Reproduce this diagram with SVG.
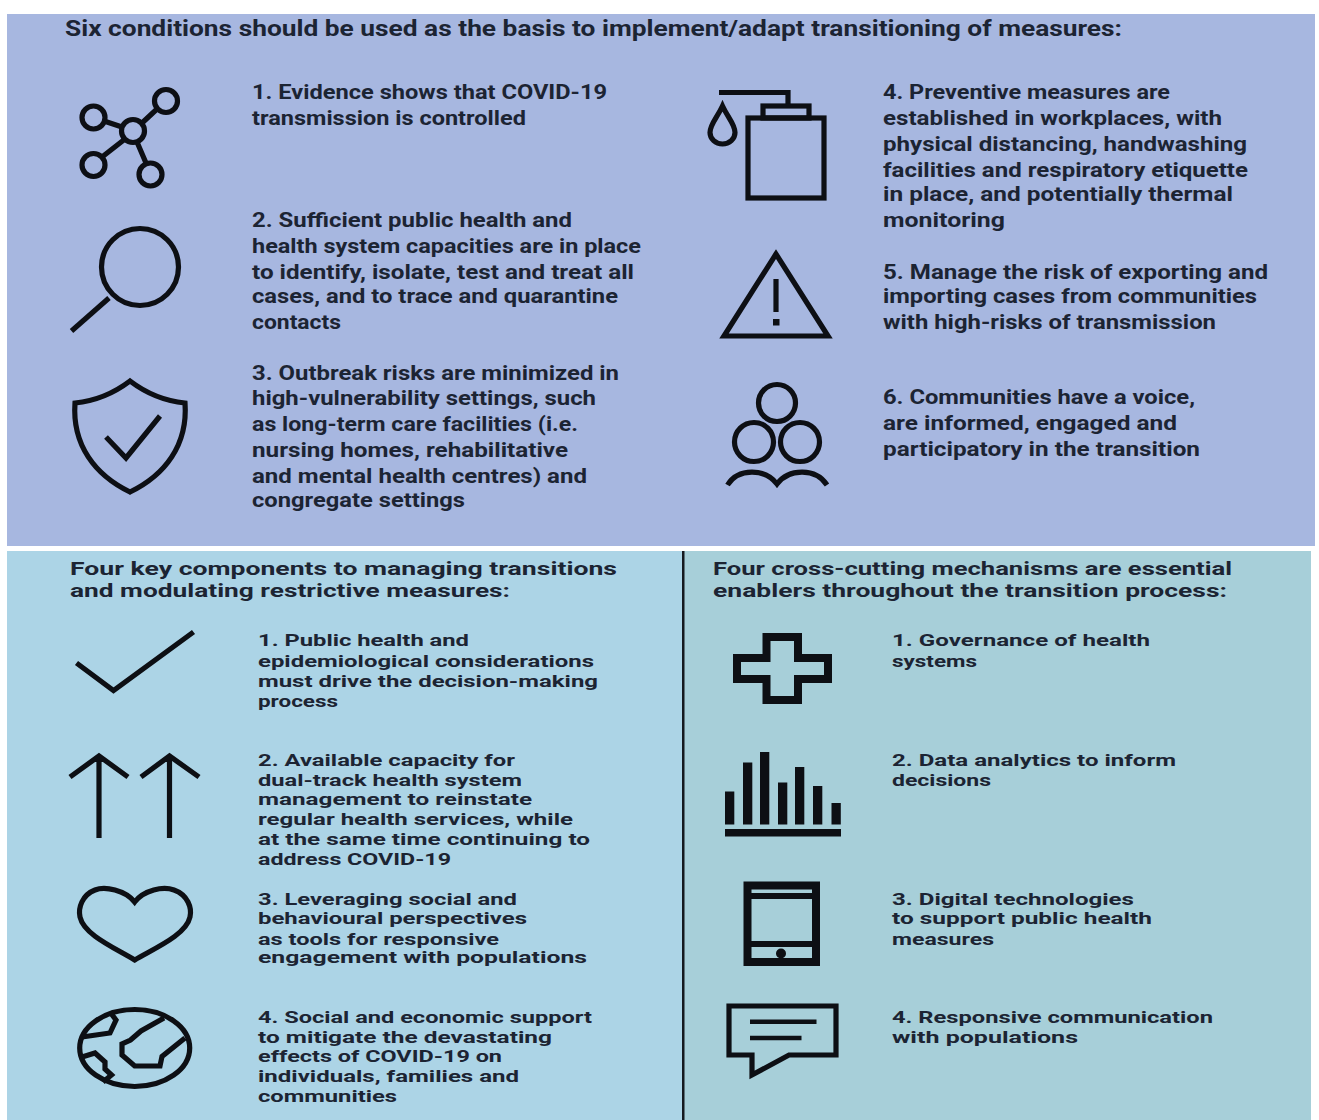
<svg xmlns="http://www.w3.org/2000/svg" width="1319" height="1120" viewBox="0 0 1319 1120">
<style>
text{font-family:Roboto,"Noto Sans","Liberation Sans",sans-serif;font-weight:700;fill:#1c2433}
.h1{font-size:22px}
.t1{font-size:21px}
.h2{font-size:18.500px}
.t2{font-size:17px}
.i{fill:none;stroke:#0d0f14;stroke-width:5.200;stroke-linejoin:miter}
.f{fill:#0d0f14;stroke:none}
</style>
<rect width="1319" height="1120" fill="#fff"/>
<rect id="panel-top" x="7" y="14" width="1308" height="532" fill="#a7b7e0"/>
<rect id="panel-left" x="7" y="551" width="676" height="569" fill="#acd4e6"/>
<rect id="panel-right" x="683" y="551" width="628" height="569" fill="#a7cfd9"/>
<rect id="divider" x="682" y="551" width="2.500" height="569" fill="#15191f"/>
<g id="connectors"/>

<g id="title-top"><text class="h1" x="65" y="36" textLength="1057" lengthAdjust="spacingAndGlyphs">Six conditions should be used as the basis to implement/adapt transitioning of measures:</text></g>

<g id="condition-1">
<g class="i"><circle cx="166" cy="101" r="11.500"/><circle cx="93.500" cy="117.500" r="11.500"/><circle cx="133" cy="131" r="11.500"/><circle cx="93.500" cy="165" r="11.500"/><circle cx="150.500" cy="174.500" r="11.500"/><path d="M157 109L142 123M104 121L122 127M125 139L102 157M137 142L146 163"/></g>
<text class="t1" x="252" y="99" textLength="355" lengthAdjust="spacingAndGlyphs">1. Evidence shows that COVID-19</text>
<text class="t1" x="252" y="125" textLength="274" lengthAdjust="spacingAndGlyphs">transmission is controlled</text>
</g>
<g id="condition-2">
<g class="i"><circle cx="140" cy="267" r="38.500"/><path d="M109 298L71.500 331"/></g>
<text class="t1" x="252" y="227" textLength="320" lengthAdjust="spacingAndGlyphs">2. Sufficient public health and</text>
<text class="t1" x="252" y="253" textLength="389" lengthAdjust="spacingAndGlyphs">health system capacities are in place</text>
<text class="t1" x="252" y="279" textLength="382" lengthAdjust="spacingAndGlyphs">to identify, isolate, test and treat all</text>
<text class="t1" x="252" y="303" textLength="366" lengthAdjust="spacingAndGlyphs">cases, and to trace and quarantine</text>
<text class="t1" x="252" y="329" textLength="89" lengthAdjust="spacingAndGlyphs">contacts</text>
</g>
<g id="condition-3">
<g class="i"><path d="M130 381Q105 400 75 403C72 445 95 475 130 492C165 475 188 445 185 403Q155 400 130 381Z"/><path d="M106 437L126 458L160 416"/></g>
<text class="t1" x="252" y="380" textLength="367" lengthAdjust="spacingAndGlyphs">3. Outbreak risks are minimized in</text>
<text class="t1" x="252" y="405" textLength="344" lengthAdjust="spacingAndGlyphs">high-vulnerability settings, such</text>
<text class="t1" x="252" y="431" textLength="326" lengthAdjust="spacingAndGlyphs">as long-term care facilities (i.e.</text>
<text class="t1" x="252" y="457" textLength="316" lengthAdjust="spacingAndGlyphs">nursing homes, rehabilitative</text>
<text class="t1" x="252" y="483" textLength="335" lengthAdjust="spacingAndGlyphs">and mental health centres) and</text>
<text class="t1" x="252" y="507" textLength="213" lengthAdjust="spacingAndGlyphs">congregate settings</text>
</g>
<g id="condition-4">
<g class="i"><path d="M719 92.500H788V106"/><rect x="763" y="106" width="46" height="12"/><rect x="748" y="118" width="76" height="80"/><path d="M722.500 106C717 118 710 124 710 132.500A12.500 11.500 0 0 0 735 132.500C735 124 728 118 722.500 106Z"/></g>
<text class="t1" x="883" y="99" textLength="287" lengthAdjust="spacingAndGlyphs">4. Preventive measures are</text>
<text class="t1" x="883" y="125" textLength="339" lengthAdjust="spacingAndGlyphs">established in workplaces, with</text>
<text class="t1" x="883" y="151" textLength="364" lengthAdjust="spacingAndGlyphs">physical distancing, handwashing</text>
<text class="t1" x="883" y="177" textLength="365" lengthAdjust="spacingAndGlyphs">facilities and respiratory etiquette</text>
<text class="t1" x="883" y="201" textLength="350" lengthAdjust="spacingAndGlyphs">in place, and potentially thermal</text>
<text class="t1" x="883" y="227" textLength="122" lengthAdjust="spacingAndGlyphs">monitoring</text>
</g>
<g id="condition-5">
<g class="i"><path d="M776 254L724 336H828Z"/><path d="M776 279V312"/><rect class="f" x="773" y="319" width="6.500" height="6.500"/></g>
<text class="t1" x="883" y="279" textLength="385" lengthAdjust="spacingAndGlyphs">5. Manage the risk of exporting and</text>
<text class="t1" x="883" y="303" textLength="374" lengthAdjust="spacingAndGlyphs">importing cases from communities</text>
<text class="t1" x="883" y="329" textLength="333" lengthAdjust="spacingAndGlyphs">with high-risks of transmission</text>
</g>
<g id="condition-6">
<g class="i"><circle cx="777" cy="403" r="18.500"/><circle cx="754" cy="442" r="19.500"/><circle cx="800" cy="442" r="19.500"/><path d="M727.500 485C738 468 765 468 777 484C789 468 816 468 827 485"/></g>
<text class="t1" x="883" y="404" textLength="312" lengthAdjust="spacingAndGlyphs">6. Communities have a voice,</text>
<text class="t1" x="883" y="430" textLength="294" lengthAdjust="spacingAndGlyphs">are informed, engaged and</text>
<text class="t1" x="883" y="456" textLength="317" lengthAdjust="spacingAndGlyphs">participatory in the transition</text>
</g>

<g id="title-left">
<text class="h2" x="70" y="575" textLength="547" lengthAdjust="spacingAndGlyphs">Four key components to managing transitions</text>
<text class="h2" x="70" y="597" textLength="440" lengthAdjust="spacingAndGlyphs">and modulating restrictive measures:</text>
</g>
<g id="component-1">
<path class="i" d="M76.500 663L113.500 690.500L193.500 632"/>
<text class="t2" x="258" y="646" textLength="211" lengthAdjust="spacingAndGlyphs">1. Public health and</text>
<text class="t2" x="258" y="667" textLength="336" lengthAdjust="spacingAndGlyphs">epidemiological considerations</text>
<text class="t2" x="258" y="687" textLength="340" lengthAdjust="spacingAndGlyphs">must drive the decision-making</text>
<text class="t2" x="258" y="707" textLength="80" lengthAdjust="spacingAndGlyphs">process</text>
</g>
<g id="component-2">
<path class="i" d="M99 838V756M70 777L99 756L128 777M169.500 838V756M141 777L169.500 756L199 777"/>
<text class="t2" x="258" y="766" textLength="257" lengthAdjust="spacingAndGlyphs">2. Available capacity for</text>
<text class="t2" x="258" y="786" textLength="264" lengthAdjust="spacingAndGlyphs">dual-track health system</text>
<text class="t2" x="258" y="805" textLength="274" lengthAdjust="spacingAndGlyphs">management to reinstate</text>
<text class="t2" x="258" y="825" textLength="315" lengthAdjust="spacingAndGlyphs">regular health services, while</text>
<text class="t2" x="258" y="845" textLength="332" lengthAdjust="spacingAndGlyphs">at the same time continuing to</text>
<text class="t2" x="258" y="865" textLength="193" lengthAdjust="spacingAndGlyphs">address COVID-19</text>
</g>
<g id="component-3">
<path class="i" d="M134.700 902C125 890 105 886 95 890C82 895 78 908 80 917C84 935 115 948 134.700 960C155 948 186 935 190 917C192 908 188 895 174 890C163 886 144 890 134.700 902Z"/>
<text class="t2" x="258" y="905" textLength="259" lengthAdjust="spacingAndGlyphs">3. Leveraging social and</text>
<text class="t2" x="258" y="924" textLength="269" lengthAdjust="spacingAndGlyphs">behavioural perspectives</text>
<text class="t2" x="258" y="945" textLength="241" lengthAdjust="spacingAndGlyphs">as tools for responsive</text>
<text class="t2" x="258" y="963" textLength="329" lengthAdjust="spacingAndGlyphs">engagement with populations</text>
</g>
<g id="component-4">
<g class="i"><ellipse cx="134.700" cy="1048" rx="55" ry="38.500"/><path d="M110 1012L116 1020L110 1033L82 1037M82 1057L95 1053L105 1062V1069L111.500 1075L103 1082M164 1018L141 1031L130.500 1040L122 1044V1055L134.700 1066H160L162 1056.500L185 1038"/></g>
<text class="t2" x="258" y="1023" textLength="334" lengthAdjust="spacingAndGlyphs">4. Social and economic support</text>
<text class="t2" x="258" y="1043" textLength="294" lengthAdjust="spacingAndGlyphs">to mitigate the devastating</text>
<text class="t2" x="258" y="1062" textLength="244" lengthAdjust="spacingAndGlyphs">effects of COVID-19 on</text>
<text class="t2" x="258" y="1082" textLength="261" lengthAdjust="spacingAndGlyphs">individuals, families and</text>
<text class="t2" x="258" y="1102" textLength="139" lengthAdjust="spacingAndGlyphs">communities</text>
</g>

<g id="title-right">
<text class="h2" x="713" y="575" textLength="519" lengthAdjust="spacingAndGlyphs">Four cross-cutting mechanisms are essential</text>
<text class="h2" x="713" y="597" textLength="514" lengthAdjust="spacingAndGlyphs">enablers throughout the transition process:</text>
</g>
<g id="mechanism-1">
<path class="i" style="stroke-width:8" d="M766.500 637H798V658H828V679H798V700H766.500V679H737V658H766.500Z"/>
<text class="t2" x="892" y="646" textLength="258" lengthAdjust="spacingAndGlyphs">1. Governance of health</text>
<text class="t2" x="892" y="667" textLength="85" lengthAdjust="spacingAndGlyphs">systems</text>
</g>
<g id="mechanism-2">
<g class="f"><rect x="725" y="829" width="116" height="7.500"/><rect x="725" y="791.500" width="9.300" height="33"/><rect x="743" y="762.500" width="9.300" height="62"/><rect x="760" y="752" width="9.300" height="72.500"/><rect x="778" y="782.500" width="9.300" height="42"/><rect x="795" y="767" width="9.300" height="57.500"/><rect x="813" y="786" width="9.300" height="38.500"/><rect x="831.500" y="803" width="9.300" height="21.500"/></g>
<text class="t2" x="892" y="766" textLength="284" lengthAdjust="spacingAndGlyphs">2. Data analytics to inform</text>
<text class="t2" x="892" y="786" textLength="99" lengthAdjust="spacingAndGlyphs">decisions</text>
</g>
<g id="mechanism-3">
<g class="i" style="stroke-width:8"><rect x="747.500" y="885.500" width="68.500" height="76.500"/><path d="M748 896H816M748 944H816" style="stroke-width:6"/></g>
<circle class="f" cx="781" cy="953.500" r="5"/>
<text class="t2" x="892" y="905" textLength="242" lengthAdjust="spacingAndGlyphs">3. Digital technologies</text>
<text class="t2" x="892" y="924" textLength="260" lengthAdjust="spacingAndGlyphs">to support public health</text>
<text class="t2" x="892" y="945" textLength="102" lengthAdjust="spacingAndGlyphs">measures</text>
</g>
<g id="mechanism-4">
<g class="i"><path d="M729 1006H836V1055H789L752 1075V1055H729Z"/><path d="M750 1021.700H816.500M750 1038H801.500" style="stroke-width:4.500"/></g>
<text class="t2" x="892" y="1023" textLength="321" lengthAdjust="spacingAndGlyphs">4. Responsive communication</text>
<text class="t2" x="892" y="1043" textLength="186" lengthAdjust="spacingAndGlyphs">with populations</text>
</g>
</svg>
